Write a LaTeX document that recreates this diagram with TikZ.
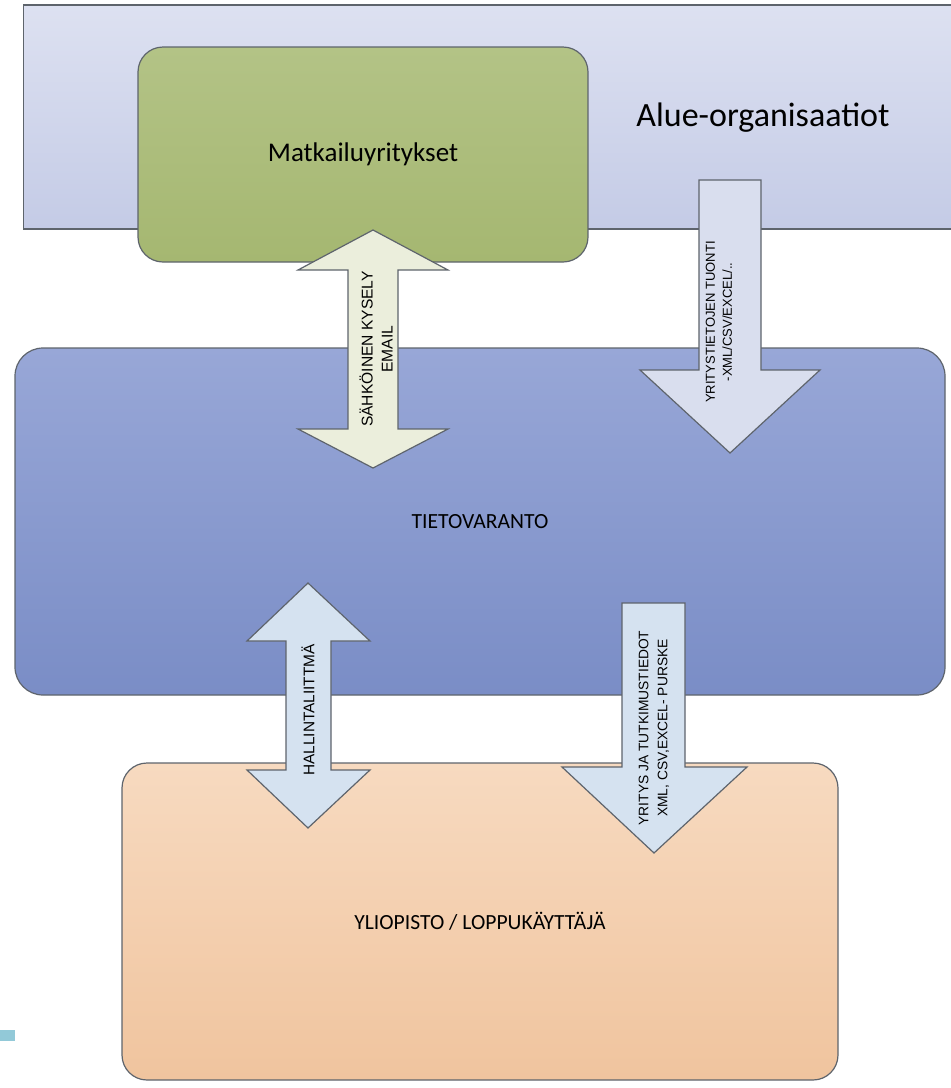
\documentclass[tikz,border=0pt]{standalone}
\usepackage{fontspec}
\setmainfont{Carlito}
\newfontfamily\arrowfont{Liberation Sans}
\usetikzlibrary{positioning}

\definecolor{areatop}{HTML}{DDE1F1}
\definecolor{areabot}{HTML}{C4CBE6}
\definecolor{greentop}{HTML}{B3C386}
\definecolor{greenbot}{HTML}{A5B771}
\definecolor{bluetop}{HTML}{98A7D7}
\definecolor{bluebot}{HTML}{7A8DC6}
\definecolor{peachtop}{HTML}{F7DAC0}
\definecolor{peachbot}{HTML}{F0C49E}
\definecolor{edgegray}{HTML}{5E646C}
\definecolor{creamfill}{HTML}{EBEEDC}
\definecolor{lavfill}{HTML}{D9DEEE}
\definecolor{skyfill}{HTML}{D5E2F0}
\definecolor{markcyan}{HTML}{92C9D8}

\begin{document}
\begin{tikzpicture}[
  x=0.5pt, y=-0.5pt,
  box/.style={draw=edgegray, line width=0.6pt, inner sep=0pt},
  lbl/.style={font=\fontsize{13.5}{16}\selectfont},
  boxtxt/.style={font=\fontsize{10.8}{13}\selectfont},
  blockarrow/.style={draw=edgegray, line width=0.6pt, line join=miter},
  arrowtxt/.style={font=\arrowfont\fontsize{6.5}{8.5}\selectfont, rotate=90, align=center, inner sep=0pt}
]
\useasboundingbox (0,0) rectangle (950,1088);

% Area band
\node[box, top color=areatop, bottom color=areabot, minimum width=466pt, minimum height=112pt] (area) at (489.5,117) {};
\node[lbl, font=\fontsize{17}{20}\selectfont] (areatxt) at (763,118) {Alue-organisaatiot};

% Companies
\node[box, lbl, rounded corners=12.5pt, top color=greentop, bottom color=greenbot, minimum width=225pt, minimum height=107.5pt] (companies) at (363,154.5) {Matkailuyritykset};

% Data store
\node[box, boxtxt, rounded corners=14pt, top color=bluetop, bottom color=bluebot, minimum width=465pt, minimum height=173.5pt] (store) at (480,521.5) {TIETOVARANTO};

% End users
\node[box, boxtxt, rounded corners=12.5pt, top color=peachtop, bottom color=peachbot, minimum width=358pt, minimum height=158.5pt] (users) at (480,921.5) {YLIOPISTO / LOPPUKÄYTTÄJÄ};

% Survey arrow
\draw[blockarrow, fill=creamfill] (373,230) -- (448,270) -- (398,270) -- (398,429) -- (448,429)
  -- (373,468) -- (298,429) -- (348,429) -- (348,270) -- (298,270) -- cycle;
\node[arrowtxt, font=\arrowfont\fontsize{7.8}{10}\selectfont] (survey) at (376,349) {SÄHKÖINEN KYSELY\\EMAIL};

% Import arrow
\draw[blockarrow, fill=lavfill] (699,180) -- (761,180) -- (761,370) -- (820,370)
  -- (730,453) -- (640,370) -- (699,370) -- cycle;
\node[arrowtxt] (import) at (719,322) {YRITYSTIETOJEN TUONTI\\-XML/CSV/EXCEL/..};

% Admin arrow
\draw[blockarrow, fill=skyfill] (308,583) -- (370,641) -- (331,641) -- (331,770) -- (370,770)
  -- (308,828) -- (247,770) -- (286,770) -- (286,641) -- (247,641) -- cycle;
\node[arrowtxt, font=\arrowfont\fontsize{7.7}{9}\selectfont] (admin) at (308,710) {HALLINTALIITTMÄ};

% Export arrow
\draw[blockarrow, fill=skyfill] (622,603) -- (685,603) -- (685,767) -- (747,767)
  -- (654,853) -- (562,767) -- (622,767) -- cycle;
\node[arrowtxt, font=\arrowfont\fontsize{6.9}{9.5}\selectfont] (export) at (654,728) {YRITYS JA TUTKIMUSTIEDOT\\XML, CSV,EXCEL- PURSKE};

% Corner mark
\fill[markcyan] (0,1030) rectangle (15,1041);

\end{tikzpicture}
\end{document}
